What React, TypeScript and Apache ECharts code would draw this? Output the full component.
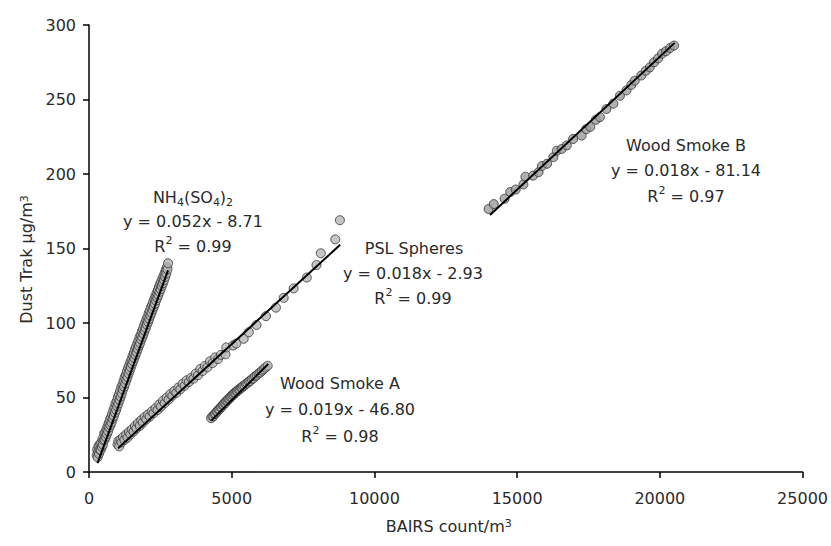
import React, { useEffect, useRef } from "react";
import * as echarts from "echarts";

// ---- Data ----
const nh4Points: number[][] = [
  [270, 11.2], [285, 15.1], [300, 9.8], [320, 13.6], [335, 17.4], [350, 12.2], [370, 15.0], [390, 18.9], [410, 14.8],
  [430, 19.6], [450, 16.9], [470, 22.3], [490, 18.4], [510, 21.3], [530, 25.8], [550, 21.7], [570, 26.4], [590, 23.5],
  [610, 28.7], [630, 25.4], [650, 30.6], [670, 27.3], [690, 32.8], [710, 29.8], [730, 35.1], [750, 31.4], [770, 36.6],
  [790, 33.2], [810, 38.9], [830, 35.7], [850, 41.3], [870, 37.5], [890, 43.4], [910, 39.8], [930, 45.9], [950, 41.7],
  [970, 47.5], [990, 44.1], [1010, 50.2], [1030, 46.0], [1050, 52.1], [1070, 48.3], [1090, 54.4], [1110, 50.5],
  [1130, 56.8], [1150, 52.7], [1170, 58.6], [1190, 55.3], [1210, 61.0], [1230, 57.2], [1250, 63.5], [1270, 59.4],
  [1290, 65.2], [1310, 61.8], [1330, 67.6], [1350, 63.7], [1370, 69.9], [1390, 66.1], [1410, 71.4], [1430, 68.2],
  [1450, 73.8], [1470, 70.3], [1490, 75.6], [1510, 72.5], [1530, 78.1], [1550, 74.4], [1570, 79.8], [1590, 76.5],
  [1610, 82.3], [1630, 78.6], [1650, 84.0], [1670, 80.4], [1690, 86.2], [1710, 82.6], [1730, 88.1], [1750, 84.7],
  [1770, 90.3], [1790, 86.5], [1810, 92.0], [1830, 88.8], [1850, 94.2], [1870, 90.6], [1890, 96.1], [1910, 92.7],
  [1930, 98.4], [1950, 94.8], [1970, 100.2], [1990, 96.6], [2010, 102.3], [2030, 98.9], [2050, 104.1], [2070, 100.7],
  [2090, 106.5], [2110, 102.8], [2130, 108.2], [2150, 104.9], [2170, 110.4], [2190, 106.8], [2210, 112.1], [2230, 109.0],
  [2250, 114.3], [2270, 110.9], [2290, 116.2], [2310, 112.8], [2330, 118.1], [2350, 115.0], [2370, 120.3], [2390, 116.9],
  [2410, 122.0], [2430, 118.8], [2450, 124.2], [2470, 120.9], [2490, 126.1], [2510, 122.7], [2530, 127.9], [2550, 124.8],
  [2570, 129.8], [2590, 126.6], [2610, 131.5], [2630, 128.7], [2650, 133.4], [2670, 130.9], [2690, 135.6], [2710, 133.2],
  [2730, 137.4], [2750, 136.0], [2770, 140.1],
];

const pslPoints: number[][] = [
  [1000, 18.5], [1030, 20.8], [1060, 17.2], [1100, 21.6], [1140, 19.9], [1190, 23.4], [1240, 21.5], [1300, 25.2],
  [1350, 23.1], [1400, 26.9], [1450, 25.2], [1500, 28.6], [1560, 27.1], [1610, 30.8], [1660, 29.2], [1720, 32.9],
  [1780, 31.0], [1830, 34.8], [1890, 33.2], [1950, 36.9], [2010, 35.4], [2070, 38.6], [2130, 37.2], [2200, 40.7],
  [2260, 39.4], [2330, 42.8], [2400, 41.6], [2460, 45.3], [2520, 43.9], [2590, 47.8], [2650, 46.2], [2720, 49.9],
  [2790, 48.6], [2850, 52.3], [2920, 51.2], [2990, 54.4], [3060, 53.1], [3130, 56.7], [3200, 55.6], [3280, 59.2],
  [3350, 57.9], [3420, 61.5], [3500, 60.4], [3580, 63.2], [3660, 62.6], [3740, 66.1], [3820, 65.0], [3900, 69.1],
  [3980, 67.8], [4060, 71.2], [4150, 70.3], [4240, 74.3], [4330, 73.1], [4420, 76.9], [4520, 75.8], [4620, 78.6],
  [4780, 79.0], [4810, 83.6], [5050, 84.9], [5160, 86.2], [5420, 89.4], [5600, 93.8], [5870, 98.7], [6200, 104.6],
  [6550, 110.3], [6820, 116.9], [7170, 123.2], [7630, 130.5], [7970, 138.9], [8120, 146.8], [8630, 156.1], [8790, 169.0],
];

const woodAPoints: number[][] = [
  [4280, 36.1], [4320, 37.3], [4360, 37.4], [4400, 38.8], [4430, 39.2], [4470, 40.5], [4500, 40.6], [4540, 41.9],
  [4570, 42.1], [4610, 43.4], [4640, 43.6], [4680, 44.8], [4710, 45.1], [4740, 46.2], [4780, 46.4], [4810, 47.7],
  [4850, 47.9], [4880, 49.1], [4920, 49.2], [4950, 50.4], [4990, 50.6], [5020, 51.7], [5060, 51.9], [5090, 53.0],
  [5130, 53.1], [5170, 54.2], [5200, 54.3], [5240, 55.4], [5280, 55.5], [5320, 56.6], [5360, 56.7], [5400, 57.7],
  [5450, 58.1], [5500, 59.2], [5550, 59.6], [5600, 60.7], [5650, 61.1], [5700, 62.3], [5760, 62.9], [5820, 64.2],
  [5880, 64.9], [5940, 66.1], [6000, 66.8], [6060, 68.0], [6120, 68.9], [6180, 70.1], [6260, 71.3],
];

const woodBPoints: number[][] = [
  [14000, 176.5], [14180, 179.8], [14560, 183.4], [14760, 187.9], [14950, 189.6], [15220, 193.0],
  [15290, 198.2], [15560, 198.9], [15750, 201.2], [15870, 205.4], [16050, 206.9], [16270, 211.3],
  [16390, 215.6], [16560, 216.8], [16740, 219.2], [16960, 223.5], [17260, 225.8], [17420, 230.1],
  [17560, 231.6], [17760, 236.4], [17900, 238.2], [18130, 243.6], [18370, 247.2], [18600, 252.5],
  [18830, 256.1], [19000, 259.8], [19120, 262.6], [19350, 266.1], [19510, 269.3], [19650, 271.6],
  [19800, 275.0], [19940, 277.6], [20080, 280.8], [20220, 282.4], [20360, 284.6], [20500, 286.2],
];

// trendline end points
const nh4Trend: number[][] = [[300, 6.0], [2770, 135.3]];
const pslTrend: number[][] = [[1020, 16.0], [8800, 152.5]];
const woodATrend: number[][] = [[4280, 34.5], [6280, 72.5]];
const woodBTrend: number[][] = [[14050, 172.5], [20520, 288.0]];

const xTicks = { min: 0, max: 25000, interval: 5000 };
const yTicks = { min: 0, max: 300, interval: 50 };

const FONT = "'DejaVu Sans', sans-serif";
const TEXT_COLOR = "#2a2a2a";

const rich = {
  n: { fontSize: 16, lineHeight: 22, fontFamily: FONT, color: TEXT_COLOR },
  sub: { fontSize: 11, lineHeight: 13, verticalAlign: "bottom", fontFamily: FONT, color: TEXT_COLOR },
  sup: { fontSize: 11, lineHeight: 13, verticalAlign: "top", fontFamily: FONT, color: TEXT_COLOR },
};

function label(text: string, x: number, y: number) {
  return {
    type: "text",
    x,
    y,
    z: 100,
    style: {
      text,
      rich,
      align: "center",
      verticalAlign: "middle",
      font: `16px ${FONT}`,
      fill: TEXT_COLOR,
    },
  };
}

function scatter(name: string, data: number[][], fill: string) {
  return {
    name,
    type: "scatter",
    data,
    symbol: "circle",
    symbolSize: 9,
    itemStyle: { color: fill, borderColor: "#333333", borderWidth: 1 },
    z: 2,
  };
}

function trend(name: string, data: number[][]) {
  return {
    name,
    type: "line",
    data,
    symbol: "none",
    lineStyle: { color: "#000", width: 2 },
    z: 3,
  };
}

export default function App() {
  const ref = useRef<HTMLDivElement>(null);

  useEffect(() => {
    document.body.style.margin = "0";
    if (!ref.current) return;
    const chart = echarts.init(ref.current, null, { renderer: "svg" });
    chart.setOption({
      animation: false,
      backgroundColor: "#ffffff",
      grid: { left: 89, right: 26, top: 25, bottom: 74, containLabel: false },
      xAxis: {
        type: "value",
        min: xTicks.min,
        max: xTicks.max,
        interval: xTicks.interval,
        name: "BAIRS count/m{sup|3}",
        nameLocation: "middle",
        nameGap: 46,
        nameTextStyle: { fontSize: 16, fontFamily: FONT, color: TEXT_COLOR, rich, padding: [0, 0, 0, 6] },
        axisLine: { lineStyle: { color: "#000", width: 1.5 } },
        axisTick: { show: true, inside: false, length: 6, lineStyle: { color: "#000", width: 1.5 } },
        axisLabel: {
          fontSize: 16,
          fontFamily: FONT,
          color: TEXT_COLOR,
          margin: 18,
          formatter: (v: number) => String(v),
        },
        splitLine: { show: false },
      },
      yAxis: {
        type: "value",
        min: yTicks.min,
        max: yTicks.max,
        interval: yTicks.interval,
        name: "Dust Trak µg/m{sup|3}",
        nameLocation: "middle",
        nameGap: 52,
        nameRotate: 90,
        nameTextStyle: { fontSize: 16, fontFamily: FONT, color: TEXT_COLOR, rich, padding: [0, 22, 0, 0] },
        axisLine: { show: true, lineStyle: { color: "#000", width: 1.5 } },
        axisTick: { show: true, inside: false, length: 6, lineStyle: { color: "#000", width: 1.5 } },
        axisLabel: { fontSize: 16, fontFamily: FONT, color: TEXT_COLOR, margin: 13 },
        splitLine: { show: false },
      },
      series: [
        scatter("NH4(SO4)2", nh4Points, "#b4b4b4"),
        scatter("PSL Spheres", pslPoints, "#b8b8b8"),
        scatter("Wood Smoke A", woodAPoints, "#b4b4b4"),
        scatter("Wood Smoke B", woodBPoints, "#9c9c9c"),
        trend("NH4 trend", nh4Trend),
        trend("PSL trend", pslTrend),
        trend("Wood A trend", woodATrend),
        trend("Wood B trend", woodBTrend),
      ],
      graphic: [
        label("{n|NH}{sub|4}{n|(SO}{sub|4}{n|)}{sub|2}", 193, 197),
        label("{n|y = 0.052x - 8.71}", 193, 221),
        label("{n|R}{sup|2}{n| = 0.99}", 193, 246),
        label("{n|PSL Spheres}", 414, 248),
        label("{n|y = 0.018x - 2.93}", 413, 273),
        label("{n|R}{sup|2}{n| = 0.99}", 413, 298),
        label("{n|Wood Smoke B}", 686, 145),
        label("{n|y = 0.018x - 81.14}", 686, 170),
        label("{n|R}{sup|2}{n| = 0.97}", 686, 196),
        label("{n|Wood Smoke A}", 340, 383),
        label("{n|y = 0.019x - 46.80}", 340, 409),
        label("{n|R}{sup|2}{n| = 0.98}", 340, 436),
      ],
    });
    return () => chart.dispose();
  }, []);

  return <div ref={ref} style={{ width: 831, height: 546 }} />;
}
